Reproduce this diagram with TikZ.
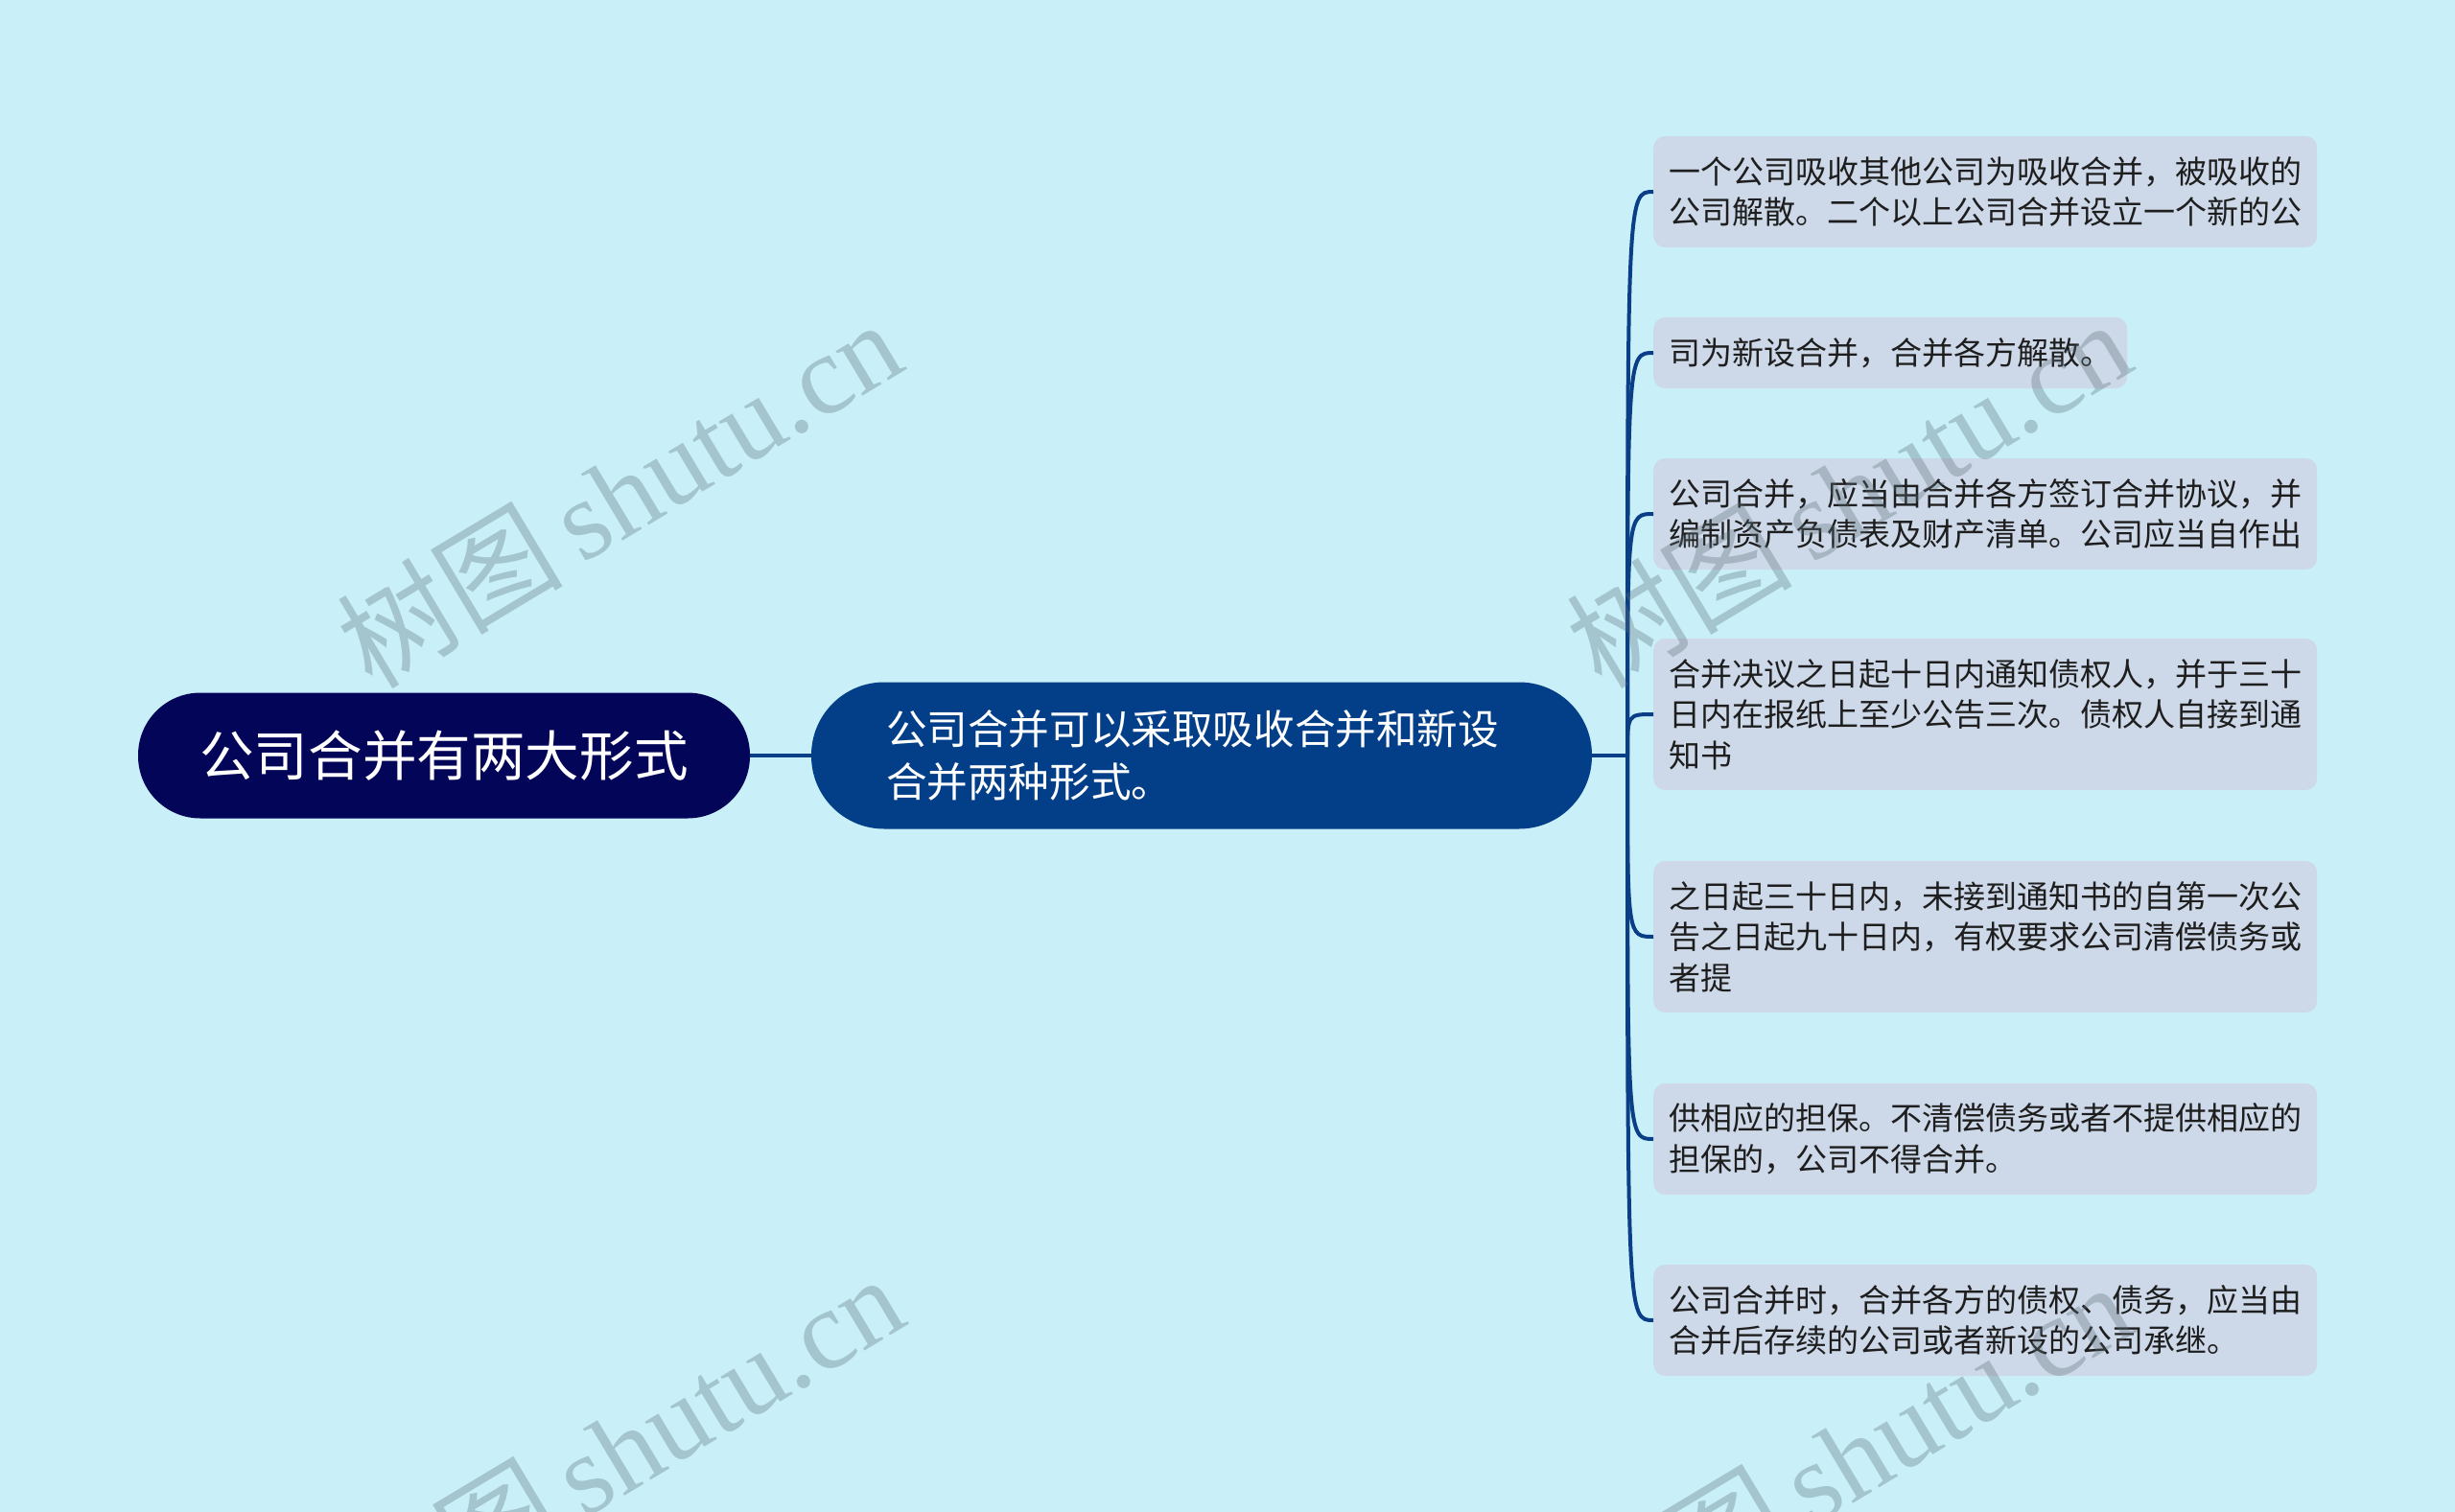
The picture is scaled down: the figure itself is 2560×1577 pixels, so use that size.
\documentclass[tikz,border=0pt]{standalone}
\usepackage{fontspec}
\setmainfont{Noto Sans CJK SC}
\newfontfamily\wmlatin{Liberation Serif}
\newfontfamily\wmcjk{Noto Sans CJK SC}
\definecolor{bgc}{RGB}{201,240,248}
\definecolor{rootc}{RGB}{3,6,88}
\definecolor{midc}{RGB}{3,63,136}
\definecolor{leafc}{RGB}{205,216,232}
\definecolor{linec}{RGB}{10,62,134}
\definecolor{leaftext}{RGB}{30,30,30}
\definecolor{wmc}{RGB}{90,110,120}
\begin{document}
\begin{tikzpicture}[x=1pt,y=-1pt,
  rootbox/.style={fill=rootc, rounded corners=65pt, minimum width=638pt, minimum height=131pt,
    text=white, font=\fontsize{56.6}{60}\selectfont, inner sep=0pt},
  midbox/.style={fill=midc, rounded corners=76pt, minimum height=153pt, text width=658pt,
    inner xsep=78pt, inner ysep=0pt, align=left, text=white, font=\fontsize{42.6}{55}\selectfont},
  leafbox/.style={fill=leafc, rounded corners=12pt, anchor=west, inner xsep=16pt, inner ysep=0pt,
    align=left, text=leaftext, font=\fontsize{33}{42.5}\selectfont},
  wide/.style={minimum width=692pt},
  conn/.style={draw=linec, line width=4pt},
  wm/.style={text=wmc, text opacity=0.33, rotate=31, inner sep=0pt}
]
\useasboundingbox (0,0) rectangle (2560,1577);
\fill[bgc] (0,0) rectangle (2560,1577);
\clip (0,0) rectangle (2560,1577);

\node[rootbox] (root) at (463,788) {公司合并有两大形式};
\node[midbox] (mid) at (1253,788) {公司合并可以采取吸收合并和新设\\合并两种形式。};
\coordinate (J) at (1697,788);

\node[leafbox, wide, minimum height=116pt] (l1) at (1724,200)
  {一个公司吸收其他公司为吸收合并，被吸收的\\公司解散。二个以上公司合并设立一个新的公};
\node[leafbox, minimum height=74pt] (l2) at (1724,368)
  {司为新设合并，合并各方解散。};
\node[leafbox, wide, minimum height=116pt] (l3) at (1724,536)
  {公司合并，应当由合并各方签订合并协议，并\\编制资产负债表及财产清单。公司应当自作出};
\node[leafbox, wide, minimum height=158pt] (l4) at (1724,745)
  {合并决议之日起十日内通知债权人，并于三十\\日内在报纸上至少公告三次。债权人自接到通\\知书};
\node[leafbox, wide, minimum height=158pt] (l5) at (1724,977)
  {之日起三十日内，未接到通知书的自第一次公\\告之日起九十日内，有权要求公司清偿债务或\\者提};
\node[leafbox, wide, minimum height=116pt] (l6) at (1724,1188)
  {供相应的担保。不清偿债务或者不提供相应的\\担保的，公司不得合并。};
\node[leafbox, wide, minimum height=116pt] (l7) at (1724,1377)
  {公司合并时，合并各方的债权、债务，应当由\\合并后存续的公司或者新设的公司承继。};

\draw[conn] (root.east) -- (mid.west);
\draw[conn] (mid.east) -- (J);
\foreach \n in {l1,l2,l3,l4,l5,l6,l7}{
  \draw[conn] (J) .. controls (J |- \n.west) and (J |- \n.west) .. (\n.west);
}

\node[wm] (w1) at (645,514) {\fontsize{118}{118}\selectfont\wmcjk 树图\,\wmlatin shutu.cn};
\node[wm] (w2) at (1927,514) {\fontsize{118}{118}\selectfont\wmcjk 树图\,\wmlatin shutu.cn};
\node[wm] (w3) at (647,1510) {\fontsize{118}{118}\selectfont\wmcjk 树图\,\wmlatin shutu.cn};
\node[wm] (w4) at (1928,1518) {\fontsize{118}{118}\selectfont\wmcjk 树图\,\wmlatin shutu.cn};
\end{tikzpicture}
\end{document}
